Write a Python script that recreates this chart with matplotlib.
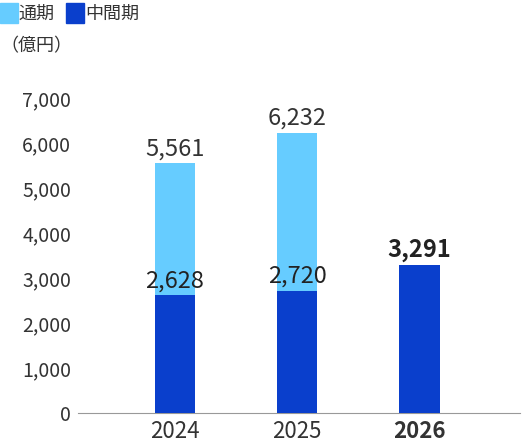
import matplotlib
matplotlib.use("Agg")
import matplotlib.pyplot as plt
from matplotlib.patches import Rectangle

plt.rcParams['font.family'] = ['Noto Sans CJK JP', 'DejaVu Sans']

years = ["2024", "2025", "2026"]
full_year = [5561, 6232, None]
interim = [2628, 2720, 3291]
yticks = [0, 1000, 2000, 3000, 4000, 5000, 6000, 7000]

light = "#66CCFF"
dark = "#0A3FCC"

fig = plt.figure(figsize=(5.24, 4.44), dpi=100)
ax = fig.add_axes([0.149, 0.0698, 0.843, 0.709])
x = list(range(len(years)))
w = 0.33
for i in x:
    if full_year[i] is not None:
        ax.bar(i, full_year[i], width=w, color=light, zorder=2)
        ax.text(i, full_year[i] + 60, f"{full_year[i]:,}", ha='center', va='bottom',
                fontsize=17, color="#333333", clip_on=False)
    ax.bar(i, interim[i], width=w, color=dark, zorder=3)
    bold = full_year[i] is None
    ax.text(i, interim[i] + 60, f"{interim[i]:,}", ha='center', va='bottom',
            fontsize=17, color="#222222", fontweight='bold' if bold else 'normal', zorder=4)

ax.set_xlim(-0.79, 2.82)
ax.set_ylim(0, 7000)
ax.set_yticks(yticks)
ax.set_yticklabels([f"{v:,}" for v in yticks], fontsize=14, color="#333333")
ax.set_xticks(x)
ax.set_xticklabels(years, fontsize=16, color="#333333")
ax.get_xticklabels()[2].set_fontweight('bold')
ax.tick_params(length=0, pad=5)
for s in ['top', 'right', 'left']:
    ax.spines[s].set_visible(False)
ax.spines['bottom'].set_color("#999999")

fig.patches.append(Rectangle((0.0, 0.948), 0.034, 0.045, transform=fig.transFigure, color=light))
fig.text(0.036, 0.968, "通期", fontsize=13, va='center', color="#333333")
fig.patches.append(Rectangle((0.126, 0.948), 0.034, 0.045, transform=fig.transFigure, color=dark))
fig.text(0.162, 0.968, "中間期", fontsize=13, va='center', color="#333333")
fig.text(0.0, 0.895, "（億円）", fontsize=13, va='center', color="#333333")

fig.savefig("out.png", dpi=100)
